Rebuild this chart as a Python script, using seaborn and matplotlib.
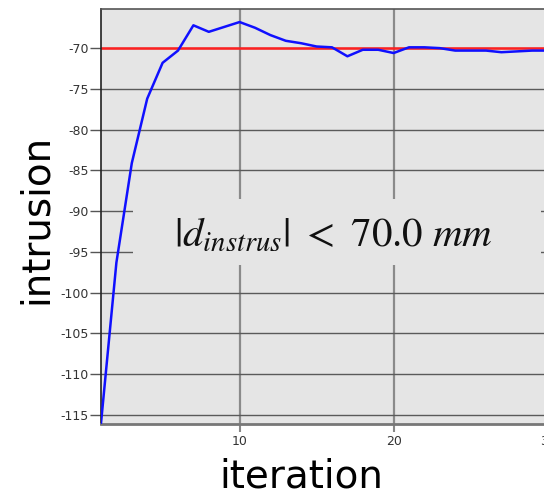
import pandas as pd
import matplotlib.pyplot as plt
import seaborn as sns
from matplotlib.patches import Rectangle

# values
iterations = list(range(1, 31))
intrusion = [-116.0, -96.3, -84.1, -76.2, -71.8, -70.3, -67.2, -68.0, -67.4, -66.8,
             -67.5, -68.4, -69.1, -69.4, -69.8, -69.9, -71.0, -70.2, -70.2, -70.6,
             -69.9, -69.9, -70.0, -70.3, -70.3, -70.3, -70.5, -70.4, -70.3, -70.3]
limit = -70.0
yticks = [-115, -110, -105, -100, -95, -90, -85, -80, -75, -70]
xticks = [10, 20, 30]

df = pd.DataFrame({"iteration": iterations, "intrusion": intrusion})

sns.set_style("white")
plt.rcParams['font.family'] = ['DejaVu Sans']
plt.rcParams['mathtext.fontset'] = 'stix'
plt.rcParams['axes.unicode_minus'] = False

W, H = 544, 494
fig = plt.figure(figsize=(W / 100, H / 100), dpi=100)
ax = fig.add_axes([101 / W, (H - 424) / H, 462 / W, 415 / H])
ax.set_facecolor('#e5e5e5')

sns.lineplot(data=df, x="iteration", y="intrusion", color='#1010ff', lw=1.8, ax=ax, zorder=3)
ax.axhline(limit, color='#ff2020', lw=1.8, zorder=2.5)

ax.set_xlim(1, 31)
ax.set_ylim(-116.1, -65.2)
ax.set_xticks(xticks)
ax.set_yticks(yticks)

ax.set_axisbelow(True)
ax.yaxis.grid(True, color='#5a5a5a', lw=1.0)
ax.xaxis.grid(True, color='#8a8a8a', lw=1.6)

# background box behind the annotation, hiding the grid
ax.add_patch(Rectangle((32 / 462, 159 / 415), 408 / 462, 66 / 415, transform=ax.transAxes,
                       facecolor='#e5e5e5', edgecolor='none', zorder=1))
fig.text(333 / W, 1 - 236 / H, r'$|d_{instrus}|\ <\ 70.0\ mm$', fontsize=29.5,
         ha='center', va='center', color='#111111')

ax.tick_params(axis='y', length=8, width=1, color='#555555', labelsize=9,
               labelcolor='#333333', pad=1, left=True)
ax.tick_params(axis='x', length=6, width=1.5, color='#888888', labelsize=9,
               labelcolor='#333333', pad=2, bottom=True)

for side in ['top', 'right']:
    ax.spines[side].set_color('#555555')
    ax.spines[side].set_linewidth(1.2)
ax.spines['left'].set_color('#222222')
ax.spines['left'].set_linewidth(1.2)
ax.spines['bottom'].set_color('#777777')
ax.spines['bottom'].set_linewidth(2)

ax.set_xlabel('')
ax.set_ylabel('')
fig.text(301 / W, 1 - 487 / H, 'iteration', fontsize=28, ha='center', va='baseline',
         color='black')
fig.text(36 / W, 1 - 219 / H, 'intrusion', fontsize=28, ha='center', va='center',
         rotation=90, color='black')

fig.savefig('out.png', dpi=100)
